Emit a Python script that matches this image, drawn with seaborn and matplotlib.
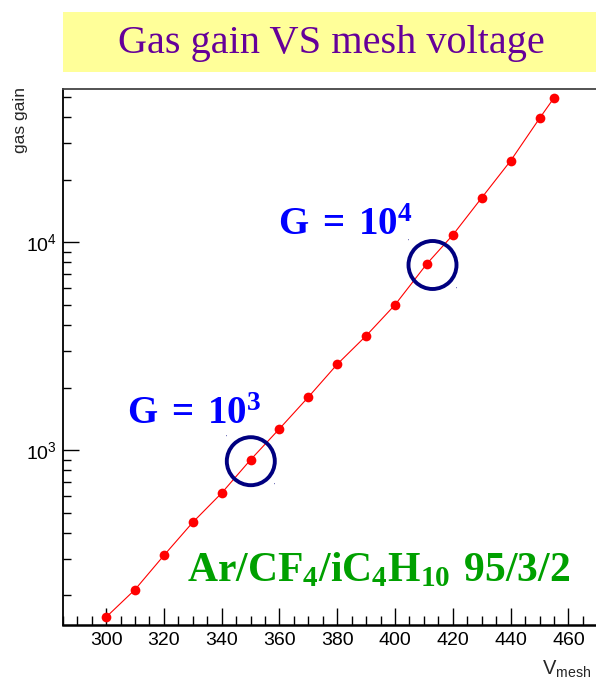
import numpy as np
import pandas as pd
import matplotlib
matplotlib.use("Agg")
import matplotlib.pyplot as plt
import matplotlib.ticker as mticker
from matplotlib.patches import Rectangle, Circle
import seaborn as sns

# Gain curve of the micromegas chamber
mesh_voltage = [300, 310, 320, 330, 340, 350, 360, 370, 380, 390, 400, 411, 420, 430, 440, 450, 455]
gas_gain = [157, 213, 311, 449, 621, 898, 1266, 1799, 2588, 3548, 5000, 7870, 10840, 16370, 24660, 39450, 49500]

x_ticks = [300, 320, 340, 360, 380, 400, 420, 440, 460]
circled_gains = [r"$\mathbf{G\,=\,10^{3}}$", r"$\mathbf{G\,=\,10^{4}}$"]
gas_mixture = r"$\mathbf{Ar/CF_{4}/iC_{4}H_{10}\ 95/3/2}$"
title_text = "Gas gain VS mesh voltage"

sns.set_style("ticks")
plt.rcParams["font.family"] = ["Liberation Sans", "DejaVu Sans"]
plt.rcParams["mathtext.fontset"] = "custom"
plt.rcParams["mathtext.rm"] = "Liberation Sans"
plt.rcParams["mathtext.bf"] = "Liberation Serif:bold"

W, H = 596, 684
fig = plt.figure(figsize=(W / 100, H / 100), dpi=100)

def fx(px):
    return px / W

def fy(py):
    return 1 - py / H

# axes frame: left 62.7 px, bottom 625 px, top 89 px, right runs past the edge
xlo, xhi = 285, 475
px_per_v = 57.8 / 20
left_px = 62.7
right_px = left_px + (xhi - xlo) * px_per_v
ax = fig.add_axes([fx(left_px), fy(625), (right_px - left_px) / W, (625 - 89) / H])

df = pd.DataFrame({"V": mesh_voltage, "G": gas_gain})
sns.lineplot(data=df, x="V", y="G", ax=ax, color="#ff0000", lw=0.8,
             marker="o", markersize=7, markeredgewidth=0, markerfacecolor="#ff0000")

ax.set_yscale("log")
ax.set_xlim(xlo, xhi)
ax.set_ylim(144, 54600)
ax.set_xlabel("")
ax.set_ylabel("")

ax.xaxis.set_major_locator(mticker.FixedLocator(x_ticks))
ax.xaxis.set_minor_locator(mticker.MultipleLocator(5))
ax.yaxis.set_major_locator(mticker.LogLocator(base=10, numticks=10))
ax.yaxis.set_minor_locator(mticker.LogLocator(base=10, subs=np.arange(2, 10), numticks=20))
ax.yaxis.set_minor_formatter(mticker.NullFormatter())

ax.tick_params(axis="both", which="both", direction="in", top=False, right=False,
               colors="black", labelsize=14)
ax.tick_params(axis="x", which="major", length=12, width=1.0, pad=5)
ax.tick_params(axis="x", which="minor", length=6.5, width=1.0)
ax.tick_params(axis="y", which="major", length=11.5, width=1.0, pad=4)
ax.tick_params(axis="y", which="minor", length=6, width=1.0)
for side in ["left", "bottom", "top", "right"]:
    ax.spines[side].set_color("black")
    ax.spines[side].set_linewidth(1.3)
ax.spines["bottom"].set_linewidth(1.8)
ax.spines["top"].set_color("#444444")

# axis titles
fig.text(fx(20), fy(87), "gas gain", rotation=90, ha="center", va="top", fontsize=12.5)
fig.text(fx(542), fy(668), r"V$_{\mathrm{mesh}}$ (V)", ha="left", va="center", fontsize=14.5)

# title banner
fig.patches.append(Rectangle((fx(63), fy(72)), fx(W - 63), (72 - 12) / H,
                             transform=fig.transFigure, facecolor="#ffff99",
                             edgecolor="none", zorder=0))
fig.text(fx(331), fy(43), title_text, ha="center", va="center",
         family="Liberation Serif", fontsize=29, color="#660099")

# circled operating points
circle_centres = [(250.8, 461.2), (432.5, 265.0)]
for cx, cy in circle_centres:
    fig.patches.append(Circle((cx, H - cy), 24, transform=None, fill=False,
                              edgecolor="#000080", lw=2.8))
    fig.text(fx(cx - 24), fy(cy - 24), "'", color="#000080", fontsize=4, ha="center", va="center")
    fig.text(fx(cx + 24), fy(cy + 24), "'", color="#000080", fontsize=4, ha="center", va="center")

fig.text(fx(127), fy(424), circled_gains[0], ha="left", va="baseline", fontsize=28, color="#0000ff")
fig.text(fx(278), fy(235), circled_gains[1], ha="left", va="baseline", fontsize=28, color="#0000ff")

fig.text(fx(187), fy(581), gas_mixture, ha="left", va="baseline", fontsize=30, color="#00a000")

fig.savefig("out.png", dpi=100)
